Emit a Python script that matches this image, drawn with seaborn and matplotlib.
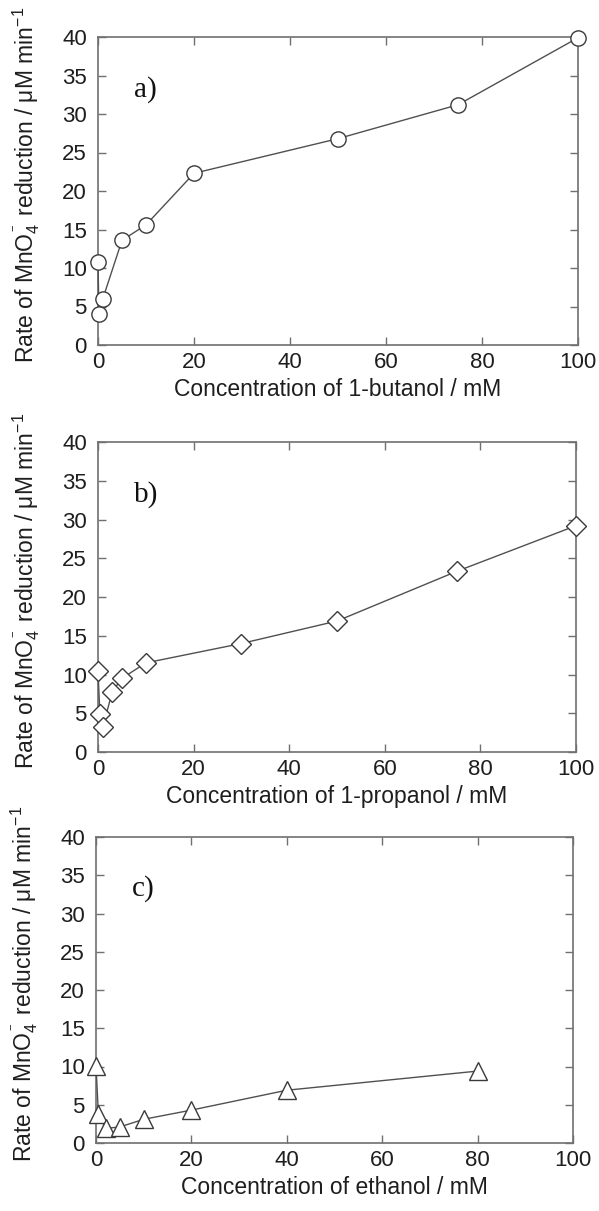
import numpy as np
import pandas as pd
import matplotlib
matplotlib.use('Agg')
import matplotlib.pyplot as plt
import seaborn as sns

# ==================== data ====================
butanol_conc = [0, 0.2, 1, 5, 10, 20, 50, 75, 100]
butanol_rate = [10.8, 4.0, 6.0, 13.6, 15.6, 22.3, 26.8, 31.2, 39.9]

propanol_conc = [0, 0.4, 1, 3, 5, 10, 30, 50, 75, 100]
propanol_rate = [10.4, 4.9, 3.2, 7.8, 9.5, 11.5, 14.0, 16.9, 23.3, 29.2]

ethanol_conc = [0, 0.5, 2, 5, 10, 20, 40, 80]
ethanol_rate = [10.1, 3.8, 1.9, 2.1, 3.1, 4.3, 6.9, 9.4]

panels = [
    ('a)', 'Concentration of 1-butanol / mM', butanol_conc, butanol_rate, 'o', 11),
    ('b)', 'Concentration of 1-propanol / mM', propanol_conc, propanol_rate, 'D', 10.5),
    ('c)', 'Concentration of ethanol / mM', ethanol_conc, ethanol_rate, '^', 13),
]

ylabel = r'Rate of MnO$_4^{^-}$ reduction / μM min$^{-1}$'

# ==================== style ====================
sns.set_theme(style='ticks')
plt.rcParams['font.family'] = ['Liberation Sans', 'DejaVu Sans']
plt.rcParams['mathtext.fontset'] = 'custom'
plt.rcParams['mathtext.rm'] = 'Liberation Sans'
plt.rcParams['mathtext.it'] = 'Liberation Sans'
plt.rcParams['mathtext.default'] = 'regular'

spine_col = '#707070'
text_col = '#1e1e1e'

fig = plt.figure(figsize=(5.99, 12.11), dpi=100)
# axes boxes measured in pixels on the reference: (left, top, right, bottom)
boxes = [(98, 37, 578, 345), (98, 442, 576, 752), (96, 837, 573, 1143)]
W, H = 599, 1211

for (tag, xlab, xs, ys, mk, ms), (l, t, r, b) in zip(panels, boxes):
    ax = fig.add_axes([l / W, 1 - b / H, (r - l) / W, (b - t) / H])
    df = pd.DataFrame({'conc': xs, 'rate': ys})
    sns.lineplot(data=df, x='conc', y='rate', ax=ax, estimator=None, sort=True,
                 color='#505050', linewidth=1.0, marker=mk, markersize=ms,
                 markerfacecolor='white', markeredgecolor='#3a3a3a',
                 markeredgewidth=1.0, clip_on=False, zorder=3)
    ax.set_xlim(0, 100)
    ax.set_ylim(0, 40)
    ax.set_xticks(np.arange(0, 101, 20))
    ax.set_yticks(np.arange(0, 41, 5))
    ax.tick_params(direction='in', length=6, width=1.0, color=spine_col,
                   top=True, right=True, labelsize=16, labelcolor=text_col)
    ax.tick_params(axis='y', pad=8)
    ax.tick_params(axis='x', pad=5)
    for s in ax.spines.values():
        s.set_visible(True)
        s.set_color(spine_col)
        s.set_linewidth(1.2)
    ax.set_xlabel(xlab, fontsize=16.5, color=text_col, labelpad=4)
    ax.set_ylabel(ylabel, fontsize=16.5, color=text_col)
    ax.yaxis.set_label_coords(-0.117, 0.52)
    ax.text(0.075, 0.83, tag, transform=ax.transAxes, fontsize=21,
            family='Liberation Serif', color='#111111', va='center', ha='left')

fig.savefig('out.png', dpi=100)
